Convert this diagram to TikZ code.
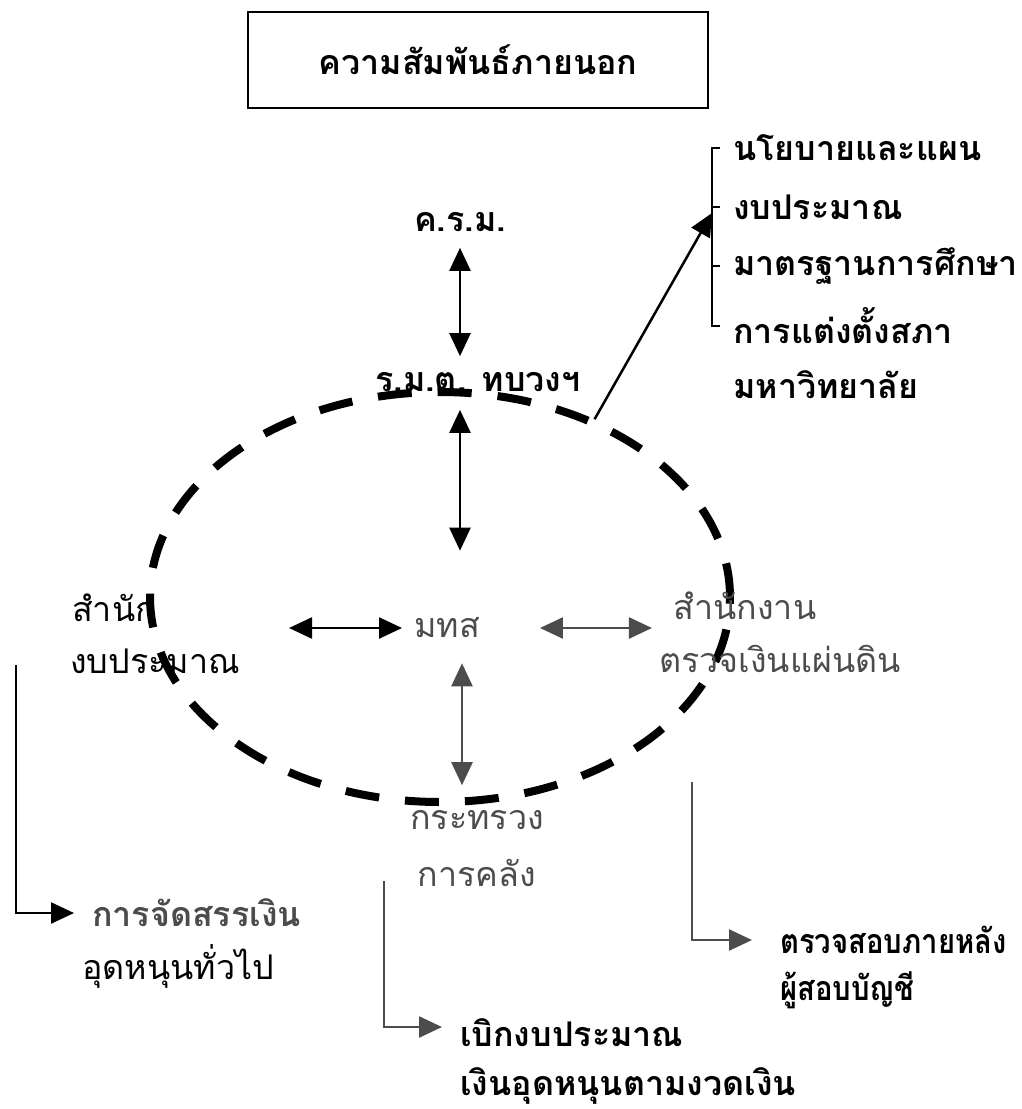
\documentclass[tikz,border=0pt]{standalone}
\usepackage{fontspec}
\newfontfamily\thai[Script=Thai]{Loma}
\usetikzlibrary{arrows.meta,shapes.geometric}
\begin{document}
\begin{tikzpicture}[x=1pt,y=-1pt,
  txt/.style={font=\thai\fontsize{34}{40}\selectfont, inner sep=0pt},
  btxt/.style={font=\thai\bfseries\fontsize{34}{40}\selectfont, inner sep=0pt},
  tip/.style={-{Triangle[length=23pt,width=21pt]}},
  dbl/.style={{Triangle[length=23pt,width=21pt]}-{Triangle[length=23pt,width=21pt]}, line width=2.5pt},
  single/.style={line width=2.5pt},
  faded/.style={black!70}
]
\useasboundingbox (0,0) rectangle (1021,1109);
% title
\node[btxt, draw, line width=2pt, minimum width=460pt, minimum height=96pt] (title) at (478,60) {ความสัมพันธ์ภายนอก};
% central chain
\node[btxt] (crm) at (460,222) {ค.ร.ม.};
\node[btxt] (rmt) at (478,382) {ร.ม.ต. ทบวงฯ};
\node[txt, faded] (mts) at (447,628) {มทส};
% ring
\node[draw, ellipse, line width=8pt, dash pattern=on 34pt off 26pt, minimum width=580pt, minimum height=410pt, inner sep=0pt] (ring) at (440,597) {};
% side units
\node[txt] (bud1) at (114,608) {สำนัก};
\node[txt] (bud2) at (155,661) {งบประมาณ};
\node[txt, faded] (aud1) at (745,606) {สำนักงาน};
\node[txt, faded] (aud2) at (780,659) {ตรวจเงินแผ่นดิน};
\node[txt, faded] (tre1) at (477,820) {กระทรวง};
\node[txt, faded] (tre2) at (477,873) {การคลัง};
% bottom outputs
\node[btxt, anchor=west, faded] (al1) at (92,913) {การจัดสรรเงิน};
\node[txt, anchor=west] (al2) at (82,966) {อุดหนุนทั่วไป};
\node[btxt, anchor=west] (dis1) at (460,1033) {เบิกงบประมาณ};
\node[btxt, anchor=west] (dis2) at (460,1086) {เงินอุดหนุนตามงวดเงิน};
\node[btxt, anchor=west] (chk1) at (780,940) {\scalebox{0.86}[1]{ตรวจสอบภายหลัง}};
\node[btxt, anchor=west] (chk2) at (780,990) {\scalebox{0.86}[1]{ผู้สอบบัญชี}};
% right list
\node[btxt, anchor=west] (p1) at (733,148) {นโยบายและแผน};
\node[btxt, anchor=west] (p2) at (733,207) {งบประมาณ};
\node[btxt, anchor=west] (p3) at (733,266) {มาตรฐานการศึกษา};
\node[btxt, anchor=west] (p4) at (733,326) {การแต่งตั้งสภา};
\node[btxt, anchor=west] (p5) at (733,385) {มหาวิทยาลัย};
\coordinate (brk) at (712,213);
\draw[single] ([xshift=-13pt]p1.west) -- ++(-8,0) coordinate (b1) -- ([xshift=-21pt]p4.west) -- ++(8,0);
\draw[single] ([xshift=-13pt]p2.west) -- ++(-8,0);
\draw[single] ([xshift=-13pt]p3.west) -- ++(-8,0);
\draw[single, tip] (ring.49) -- (brk);
% arrows
\draw[dbl] ([yshift=-16pt]crm.south) -- ([yshift=16pt]crm.south |- rmt.north);
\draw[dbl] ([yshift=-18pt]rmt.south -| crm.south) -- ([yshift=67pt]mts.north -| crm.south);
\draw[dbl] ([xshift=-12pt]mts.west) -- ([xshift=-125pt]mts.west);
\draw[dbl, faded] ([xshift=60pt]mts.east) -- ([xshift=172pt]mts.east);
\draw[dbl, faded] ([xshift=15pt,yshift=-25pt]mts.south) -- ([xshift=15pt,yshift=25pt]mts.south |- tre1.north);
% L connectors
\coordinate (ls) at (16,665);
\draw[single, tip] (ls) |- ([xshift=-18pt]al1.west);
\coordinate (ms) at (384,881);
\draw[single, tip, faded] (ms) |- ([xshift=-18pt,yshift=6pt]dis1.west);
\coordinate (rs) at (692,782);
\draw[single, tip, faded] (rs) |- ([xshift=-28pt]chk1.west);
\end{tikzpicture}
\end{document}
